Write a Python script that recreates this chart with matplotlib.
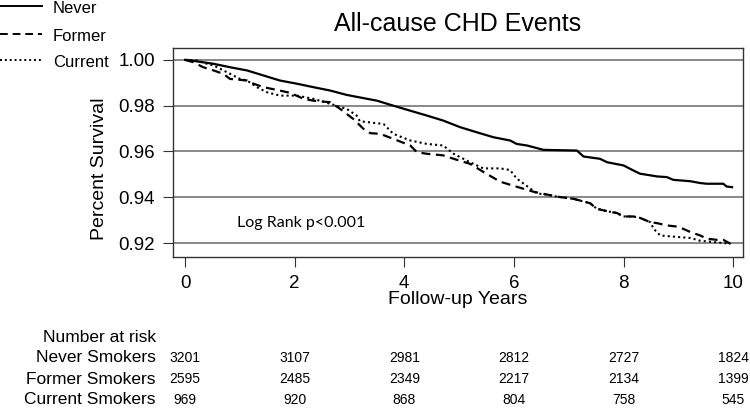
import matplotlib
matplotlib.use("Agg")
import matplotlib.pyplot as plt
from matplotlib.lines import Line2D
from matplotlib import font_manager
import matplotlib.transforms as mtransforms

# ---------------- data ----------------
never_t = [0, 0.03, 0.52, 0.82, 1.13, 1.43, 1.73, 2.04, 2.34, 2.65,
           2.95, 3.19, 3.50, 3.80, 4.11, 4.41, 4.71, 5.02, 5.32, 5.63,
           5.93, 6.05, 6.24, 6.54, 7.15, 7.27, 7.57, 7.70, 8.00, 8.18,
           8.30, 8.61, 8.79, 8.91, 9.22, 9.40, 9.52, 9.82, 9.88, 9.98]
never_s = [1.0, 1.0, 0.9983, 0.9968, 0.9954, 0.9932, 0.9910, 0.9896, 0.9881, 0.9866,
           0.9847, 0.9836, 0.9822, 0.9800, 0.9778, 0.9757, 0.9735, 0.9706, 0.9684, 0.9662,
           0.9648, 0.9633, 0.9626, 0.9607, 0.9604, 0.9578, 0.9568, 0.9553, 0.9539, 0.9517,
           0.9503, 0.9491, 0.9488, 0.9476, 0.9470, 0.9462, 0.9459, 0.9459, 0.9447, 0.9444]

former_t = [0, 0.15, 0.33, 0.52, 0.70, 0.82, 1.13, 1.25, 1.43, 1.73,
            1.92, 2.16, 2.34, 2.65, 2.83, 3.07, 3.25, 3.38, 3.56, 3.80,
            4.11, 4.23, 4.41, 4.71, 4.90, 5.20, 5.44, 5.75, 6.05, 6.36,
            6.66, 6.78, 7.09, 7.39, 7.51, 7.70, 7.88, 8.00, 8.18, 8.30,
            8.49, 8.61, 8.79, 8.97, 9.09, 9.22, 9.40, 9.52, 9.70, 9.82, 9.95]
former_s = [1.0, 0.9990, 0.9968, 0.9954, 0.9939, 0.9917, 0.9910, 0.9896, 0.9881, 0.9866,
            0.9856, 0.9830, 0.9822, 0.9815, 0.9786, 0.9742, 0.9700, 0.9680, 0.9677, 0.9655,
            0.9626, 0.9597, 0.9590, 0.9583, 0.9568, 0.9546, 0.9511, 0.9468, 0.9446, 0.9424,
            0.9409, 0.9403, 0.9393, 0.9374, 0.9350, 0.9339, 0.9331, 0.9316, 0.9316, 0.9310,
            0.9291, 0.9287, 0.9277, 0.9272, 0.9262, 0.9248, 0.9233, 0.9219, 0.9214, 0.9214,
            0.9197]

current_t = [0, 0.21, 0.40, 0.52, 0.70, 0.88, 1.00, 1.13, 1.31, 1.49,
             1.73, 2.04, 2.34, 2.65, 2.95, 3.13, 3.19, 3.62, 3.68, 3.80,
             4.11, 4.41, 4.71, 4.90, 5.02, 5.20, 5.44, 5.75, 5.93, 6.05,
             6.30, 6.42, 6.66, 6.78, 7.09, 7.39, 7.51, 7.70, 7.88, 8.00,
             8.18, 8.30, 8.49, 8.55, 8.67, 8.91, 9.22, 9.40, 9.95]
current_s = [1.0, 0.9998, 0.9983, 0.9976, 0.9954, 0.9932, 0.9917, 0.9910, 0.9881, 0.9859,
             0.9844, 0.9844, 0.9830, 0.9808, 0.9786, 0.9757, 0.9732, 0.9720, 0.9706, 0.9677,
             0.9648, 0.9633, 0.9626, 0.9590, 0.9575, 0.9553, 0.9526, 0.9526, 0.9519, 0.9482,
             0.9438, 0.9417, 0.9409, 0.9403, 0.9393, 0.9374, 0.9350, 0.9339, 0.9331, 0.9316,
             0.9316, 0.9310, 0.9291, 0.9262, 0.9233, 0.9228, 0.9222, 0.9210, 0.9197]

risk_times = [0, 2, 4, 6, 8, 10]
risk_groups = ["Never Smokers", "Former Smokers", "Current Smokers"]
risk_never = [3201, 3107, 2981, 2812, 2727, 1824]
risk_former = [2595, 2485, 2349, 2217, 2134, 1399]
risk_current = [969, 920, 868, 804, 758, 545]

legend_labels = ["Never", "Former", "Current"]
x_ticks = [0, 2, 4, 6, 8, 10]
y_ticks = [0.92, 0.94, 0.96, 0.98, 1.00]

# ---------------- fonts ----------------
avail = {f.name for f in font_manager.fontManager.ttflist}
main_font = ["Liberation Sans", "DejaVu Sans"]
narrow_font = (["Liberation Sans Narrow", "Liberation Sans"]
               if "Liberation Sans Narrow" in avail else ["Liberation Sans"])
note_font = ["Lato", "DejaVu Sans"]
plt.rcParams["font.family"] = main_font

# ---------------- figure ----------------
fig = plt.figure(figsize=(7.5, 4.08), dpi=100)
ax = fig.add_axes([173 / 750, 1 - 257 / 408, (743 - 173) / 750, (257 - 48) / 408])

ls_dash = (0, (4, 2.5))
ls_dot = (0, (1, 1.5))
ax.plot(never_t, never_s, color="black", lw=1.6, ls="-")
ax.plot(former_t, former_s, color="black", lw=1.6, ls=ls_dash)
ax.plot(current_t, current_s, color="black", lw=1.5, ls=ls_dot)

ax.set_xlim(-0.22, 10.18)
ax.set_ylim(0.9139, 1.0052)
ax.set_xticks(x_ticks)
ax.set_xticklabels([str(t) for t in x_ticks])
ax.set_yticks(y_ticks)
ax.set_yticklabels([f"{v:.2f}" for v in y_ticks])
ax.tick_params(axis="both", direction="out", length=7, width=0.8, color="#333333",
               labelsize=13.5, pad=6)
ax.grid(axis="y", color="#7f7f7f", lw=1.3)
ax.set_axisbelow(True)
for sp in ax.spines.values():
    sp.set_color("#333333")
    sp.set_linewidth(1.0)

ax.text(0.95, 0.9287, "Log Rank p<0.001", fontsize=11.5, family=note_font,
        va="center", ha="left")

fig.text(458 / 750, 1 - 24 / 408, "All-cause CHD Events", fontsize=18,
         ha="center", va="center")
fig.text(458 / 750, 1 - 300 / 408, "Follow-up Years", fontsize=14,
         ha="center", va="center")
fig.text(100 / 750, 1 - 169 / 408, "Percent Survival", fontsize=14,
         ha="center", va="center", rotation=90)

# legend (top-left)
styles = ["-", ls_dash, ls_dot]
for lab, st, yp in zip(legend_labels, styles, [6, 34, 60]):
    fy = 1 - yp / 408
    fig.add_artist(Line2D([0, 42 / 750], [fy, fy], transform=fig.transFigure,
                          color="black", lw=1.4, ls=st))
    fig.text(53 / 750, 1 - (yp + 7) / 408, lab, fontsize=12, ha="left", va="baseline")

# number at risk table
trans = mtransforms.blended_transform_factory(ax.transData, fig.transFigure)
fig.text(156 / 750, 1 - 337 / 408, "Number at risk", fontsize=12.5,
         ha="right", va="center")
for grp, vals, yp in zip(risk_groups, [risk_never, risk_former, risk_current],
                         [358, 379, 400]):
    fy = 1 - yp / 408
    fig.text(156 / 750, fy, grp, fontsize=12.5, ha="right", va="center")
    for t, v in zip(risk_times, vals):
        ax.text(t, fy, str(v), transform=trans, fontsize=10, family=narrow_font,
                ha="center", va="center", clip_on=False)

fig.savefig("out.png", dpi=100)
